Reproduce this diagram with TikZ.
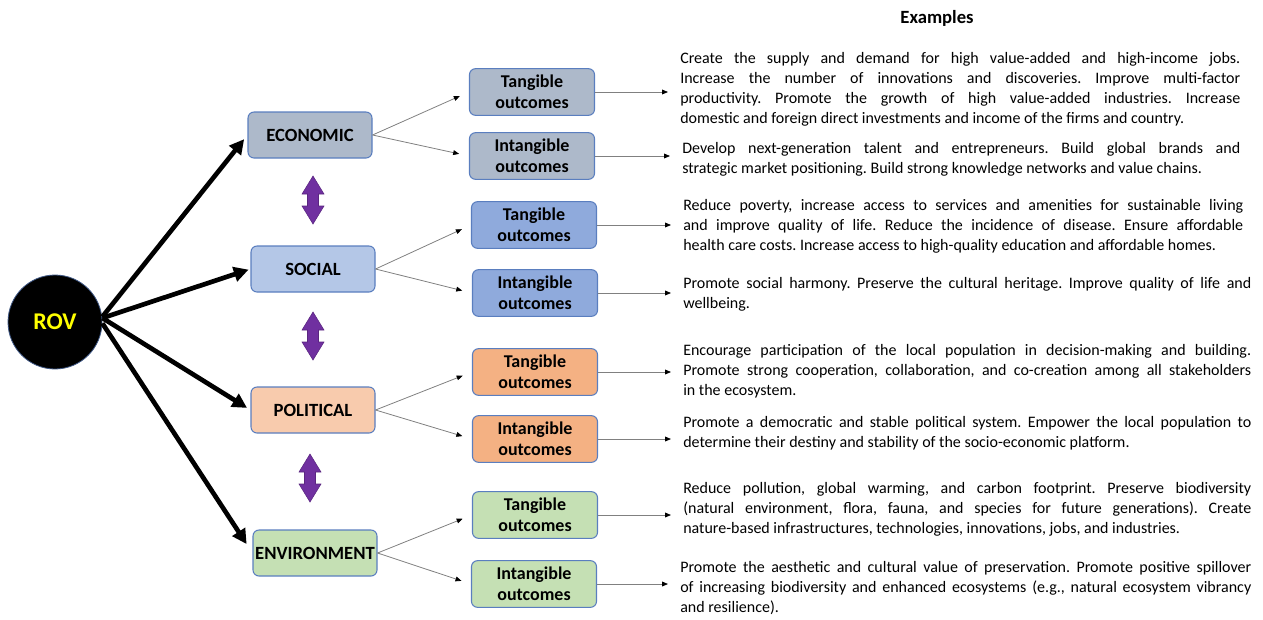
\documentclass[tikz,border=0pt]{standalone}
\usepackage{fontspec}
\setmainfont{Carlito}
\usetikzlibrary{arrows.meta}
\definecolor{boxline}{HTML}{5A7EBF}
\definecolor{econfill}{HTML}{ADB9CA}
\definecolor{socfill}{HTML}{B4C7E7}
\definecolor{socout}{HTML}{8FAADC}
\definecolor{polfill}{HTML}{F8CBAD}
\definecolor{polout}{HTML}{F4B183}
\definecolor{envfill}{HTML}{C5E0B4}
\definecolor{linkpurple}{HTML}{7030A0}
\definecolor{rovyellow}{HTML}{FFFF00}
\frenchspacing
\hyphenpenalty=10000
\exhyphenpenalty=10000
\tolerance=10000
\hbadness=10000
\begin{document}
\begin{tikzpicture}[x=0.75pt,y=-0.75pt,
  catbox/.style={draw=boxline, line width=0.8pt, rounded corners=4.5pt,
    minimum width=93pt, minimum height=34.5pt, inner sep=0pt,
    font=\fontsize{14}{16}\selectfont\bfseries},
  outbox/.style={catbox, align=center, minimum width=93.75pt, minimum height=35pt,
    font=\fontsize{13.5}{16}\selectfont\bfseries},
  extext/.style={anchor=west, inner sep=0pt, align=justify,
    font=\fontsize{12}{15}\selectfont},
  bigarrow/.style={line width=3.5pt, -{Triangle[length=11pt,width=11pt]}},
  thinarrow/.style={draw=gray, line width=0.6pt,
    -{Triangle[length=4.5pt,width=3.6pt,color=black]}},
  updown/.pic={\filldraw[fill=linkpurple, draw=linkpurple!80!black, line width=0.4pt]
    (0,-24) -- (11,-6) -- (5.5,-6) -- (5.5,6) -- (11,6) -- (0,24)
    -- (-11,6) -- (-5.5,6) -- (-5.5,-6) -- (-11,-6) -- cycle;}
]
\useasboundingbox (0,0) rectangle (1263,619);

% central circle
\node[circle, fill=black, draw=boxline!70!black, line width=0.6pt,
  minimum size=70.5pt, inner sep=0pt, text=rovyellow,
  font=\fontsize{18}{20}\selectfont\bfseries] (rov) at (55,322) {ROV};

% value categories
\node[catbox, fill=econfill] (econ) at (310,135) {ECONOMIC};
\node[catbox, fill=socfill]  (soc)  at (313,269) {SOCIAL};
\node[catbox, fill=polfill]  (pol)  at (313,410) {POLITICAL};
\node[catbox, fill=envfill]  (env)  at (315,553) {ENVIRONMENT};

% outcome boxes
\node[outbox, fill=econfill] (et) at (532,92)  {Tangible\\outcomes};
\node[outbox, fill=econfill] (ei) at (532,156) {Intangible\\outcomes};
\node[outbox, fill=socout]   (st) at (534,225) {Tangible\\outcomes};
\node[outbox, fill=socout]   (si) at (535,293) {Intangible\\outcomes};
\node[outbox, fill=polout]   (pt) at (535,372) {Tangible\\outcomes};
\node[outbox, fill=polout]   (pi) at (535,439) {Intangible\\outcomes};
\node[outbox, fill=envfill]  (vt) at (535,515) {Tangible\\outcomes};
\node[outbox, fill=envfill]  (vi) at (534,584) {Intangible\\outcomes};

% heading
\node[font=\fontsize{14}{16}\selectfont\bfseries] (hdr) at (937,18) {Examples};

% example texts
\node[extext, text width=420pt] (t1) at (680,89) {Create the supply and demand for high value-added and high-income jobs.\linebreak Increase the number of innovations and discoveries. Improve multi-factor\linebreak productivity. Promote the growth of high value-added industries. Increase\linebreak domestic and foreign direct investments and income of the firms and country.};
\node[extext, text width=418.5pt] (t2) at (682,159) {Develop next-generation talent and entrepreneurs. Build global brands and\linebreak strategic market positioning. Build strong knowledge networks and value chains.};
\node[extext, text width=420pt] (t3) at (683,226) {Reduce poverty, increase access to services and amenities for sustainable living\linebreak and improve quality of life. Reduce the incidence of disease. Ensure affordable\linebreak health care costs. Increase access to high-quality education and affordable homes.};
\node[extext, text width=426pt] (t4) at (683,294) {Promote social harmony. Preserve the cultural heritage. Improve quality of life and\linebreak wellbeing.};
\node[extext, text width=426pt] (t5) at (683,371) {Encourage participation of the local population in decision-making and building.\linebreak Promote strong cooperation, collaboration, and co-creation among all stakeholders\linebreak in the ecosystem.};
\node[extext, text width=426pt] (t6) at (683,433) {Promote a democratic and stable political system. Empower the local population to\linebreak determine their destiny and stability of the socio-economic platform.};
\node[extext, text width=426pt] (t7) at (683,509) {Reduce pollution, global warming, and carbon footprint. Preserve biodiversity\linebreak (natural environment, flora, fauna, and species for future generations). Create\linebreak nature-based infrastructures, technologies, innovations, jobs, and industries.};
\node[extext, text width=428.25pt] (t8) at (680,588) {Promote the aesthetic and cultural value of preservation. Promote positive spillover\linebreak of increasing biodiversity and enhanced ecosystems (e.g., natural ecosystem vibrancy\linebreak and resilience).};

% arrows from the circle
\draw[bigarrow, shorten >=4pt] ([yshift=4pt]rov.east) -- (econ.west);
\draw[bigarrow, shorten >=1.5pt] ([yshift=3pt]rov.east) -- (soc.west);
\draw[bigarrow, shorten >=3pt] ([yshift=3pt]rov.east) -- (pol.west);
\draw[bigarrow, shorten >=8pt] ([yshift=-1pt]rov.east) -- (env.west);

% links between categories
\pic at (313,200) {updown};
\pic at (313,336) {updown};
\pic at (310,478) {updown};

% category to outcome arrows
\foreach \c/\a/\b in {econ/et/ei, soc/st/si, pol/pt/pi, env/vt/vi}{
  \draw[thinarrow, shorten >=7.5pt] (\c.east) -- (\a.west);
  \draw[thinarrow, shorten >=7.5pt] (\c.east) -- (\b.west);
}

% outcome to example arrows
\foreach \o/\t in {et/t1, ei/t2, st/t3, si/t4, pt/t5, pi/t6, vt/t7, vi/t8}{
  \draw[thinarrow, shorten >=9pt] (\o.east) -- (\o.east -| \t.west);
}
\end{tikzpicture}
\end{document}
